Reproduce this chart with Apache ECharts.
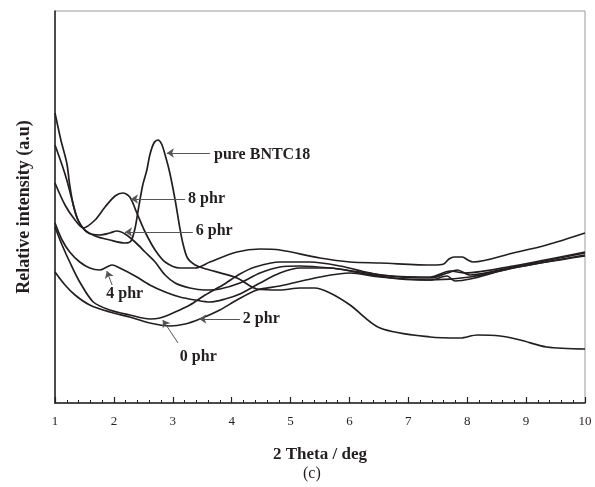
<!DOCTYPE html>
<html>
<head>
<meta charset="utf-8">
<script src="https://cdn.jsdelivr.net/npm/echarts@6/dist/echarts.min.js"></script>
<style>
  html, body { margin: 0; padding: 0; background: #fff; }
  #chart { width: 595px; height: 487px; }
</style>
</head>
<body>
<div id="chart"></div>
<script>
// XRD patterns: [2 theta (deg), relative intensity (a.u.)]
const xTickValues = [1, 2, 3, 4, 5, 6, 7, 8, 9, 10];

const pureBNTC18 = [
  [1.00, 290], [1.10, 263], [1.20, 240], [1.25, 218], [1.31, 198], [1.39, 183],
  [1.51, 173], [1.68, 167], [1.93, 163], [2.19, 160], [2.29, 162], [2.36, 175],
  [2.41, 192], [2.49, 218], [2.56, 233], [2.61, 248], [2.68, 260], [2.75, 263],
  [2.81, 259], [2.88, 246], [2.95, 230], [3.04, 203], [3.12, 175], [3.17, 160],
  [3.25, 145], [3.38, 138], [3.51, 135], [4.09, 125], [4.43, 114], [4.82, 113],
  [5.16, 115], [5.41, 115], [5.67, 110], [6.01, 98], [6.52, 75], [7.37, 66],
  [7.88, 65], [8.17, 68], [8.56, 67], [8.90, 63], [9.35, 56], [10.0, 54]
];

const phr8 = [
  [1.00, 220], [1.17, 198], [1.34, 183], [1.48, 175], [1.68, 183], [1.85, 196],
  [2.02, 207], [2.15, 210], [2.27, 206], [2.39, 190], [2.53, 171], [2.70, 153],
  [2.87, 141], [3.12, 135], [3.38, 135], [3.63, 141], [4.09, 151], [4.48, 154],
  [4.82, 153], [5.50, 145], [6.01, 141], [6.52, 140], [7.42, 138], [7.60, 139],
  [7.69, 144], [7.78, 146], [7.92, 146], [8.01, 143], [8.10, 141], [8.78, 150],
  [9.35, 158], [10.0, 170]
];

const phr6 = [
  [1.00, 258], [1.12, 238], [1.20, 223], [1.29, 203], [1.39, 183], [1.54, 171],
  [1.76, 168], [1.93, 170], [2.05, 172], [2.19, 169], [2.36, 161], [2.53, 151],
  [2.70, 141], [2.87, 128], [3.04, 120], [3.29, 115], [3.55, 113], [3.80, 114],
  [4.14, 120], [4.48, 130], [4.82, 136], [5.16, 137], [5.67, 135], [6.18, 131],
  [6.86, 126], [7.37, 125], [7.66, 130], [7.83, 133], [8.05, 128], [8.78, 136],
  [10.0, 150]
];

const phr4 = [
  [1.00, 180], [1.12, 163], [1.25, 151], [1.42, 141], [1.59, 135], [1.76, 133],
  [1.88, 136], [1.97, 138], [2.10, 135], [2.36, 127], [2.61, 118], [2.87, 111],
  [3.12, 106], [3.38, 103], [3.63, 101], [3.89, 104], [4.14, 109], [4.48, 120],
  [4.82, 130], [5.16, 135], [5.67, 135], [6.18, 130], [6.86, 124], [7.37, 123],
  [7.66, 127], [7.79, 122], [8.05, 124], [8.78, 135], [10.0, 147]
];

const phr2 = [
  [1.00, 131], [1.17, 118], [1.34, 108], [1.59, 98], [1.93, 91], [2.27, 86],
  [2.61, 80], [2.95, 77], [3.21, 79], [3.46, 84], [3.80, 93], [4.09, 103],
  [4.43, 113], [4.82, 117], [5.50, 126], [6.01, 130], [6.52, 126], [7.37, 123],
  [8.05, 126], [8.78, 135], [10.0, 148]
];

const phr0 = [
  [1.00, 176], [1.12, 158], [1.25, 141], [1.42, 121], [1.65, 101], [1.93, 93],
  [2.27, 88], [2.61, 84], [2.78, 85], [3.04, 91], [3.29, 98], [3.55, 108],
  [3.85, 118], [4.14, 129], [4.40, 136], [4.82, 141], [5.33, 141], [5.84, 137],
  [6.52, 128], [7.37, 126], [7.71, 132], [7.96, 130], [8.78, 137], [10.0, 151]
];

const ink = '#231f20';
const serif = '"Liberation Serif", "Times New Roman", Times, serif';

// one curve, with its callout arrow (tip on the curve) and its bold caption
function curve(name, points, arrowTip, arrowTail, captionAt) {
  return {
    name: name,
    type: 'line',
    data: points,
    showSymbol: false,
    smooth: 0.3,
    lineStyle: { color: ink, width: 1.7 },
    emphasis: { disabled: true },
    markLine: {
      silent: true,
      symbol: ['arrow', 'none'],
      symbolSize: 7,
      lineStyle: { color: '#555', width: 1, type: 'solid' },
      label: { show: false },
      emphasis: { disabled: true },
      data: [[{ coord: arrowTip }, { coord: arrowTail }]]
    },
    markPoint: {
      silent: true,
      symbol: 'circle',
      symbolSize: 0,
      label: {
        show: true,
        position: 'right',
        distance: 0,
        formatter: name,
        fontFamily: serif,
        fontWeight: 'bold',
        fontSize: 16,
        color: ink
      },
      data: [{ coord: captionAt }]
    }
  };
}

const chart = echarts.init(document.getElementById('chart'), null, { renderer: 'canvas' });

chart.setOption({
  animation: false,
  backgroundColor: '#fff',
  grid: {
    left: 55, right: 10, top: 11, bottom: 84,
    show: true, borderColor: '#9a9a9a', borderWidth: 1
  },
  xAxis: {
    type: 'value',
    min: 1, max: 10, interval: 1,
    name: '2 Theta / deg',
    nameLocation: 'middle',
    nameGap: 43,
    nameTextStyle: { fontFamily: serif, fontWeight: 'bold', fontSize: 17, color: ink },
    axisLine: { show: true, lineStyle: { color: ink, width: 1.5 } },
    axisTick: { show: true, inside: true, length: 6, lineStyle: { color: ink, width: 1.2 } },
    minorTick: { show: true, splitNumber: 5, length: 3, lineStyle: { color: ink, width: 1 } },
    axisLabel: {
      fontFamily: serif, fontSize: 13, color: ink, margin: 12,
      showMinLabel: true, showMaxLabel: true,
      formatter: v => (xTickValues.includes(v) ? String(v) : '')
    },
    splitLine: { show: false }
  },
  yAxis: {
    type: 'value',
    min: 0, max: 392,
    name: 'Relative intensity (a.u)',
    nameLocation: 'middle',
    nameGap: 22,
    nameTextStyle: { fontFamily: serif, fontWeight: 'bold', fontSize: 18, color: ink },
    axisLine: { show: true, lineStyle: { color: ink, width: 1.5 } },
    axisTick: { show: false },
    axisLabel: { show: false },
    splitLine: { show: false }
  },
  series: [
    curve('pure BNTC18', pureBNTC18, [2.90, 250], [3.63, 250], [3.70, 248]),
    curve('8 phr', phr8, [2.29, 204], [3.21, 204], [3.26, 204]),
    curve('6 phr', phr6, [2.19, 171], [3.34, 171], [3.39, 172]),
    curve('4 phr', phr4, [1.88, 132], [1.97, 118], [1.87, 109]),
    curve('2 phr', phr2, [3.45, 84], [4.14, 84], [4.19, 84]),
    curve('0 phr', phr0, [2.83, 83], [3.09, 60], [3.12, 46])
  ],
  graphic: [{
    type: 'text',
    left: 303,
    top: 466,
    style: { text: '(c)', font: '16px ' + serif, fill: ink }
  }]
});
</script>
</body>
</html>
